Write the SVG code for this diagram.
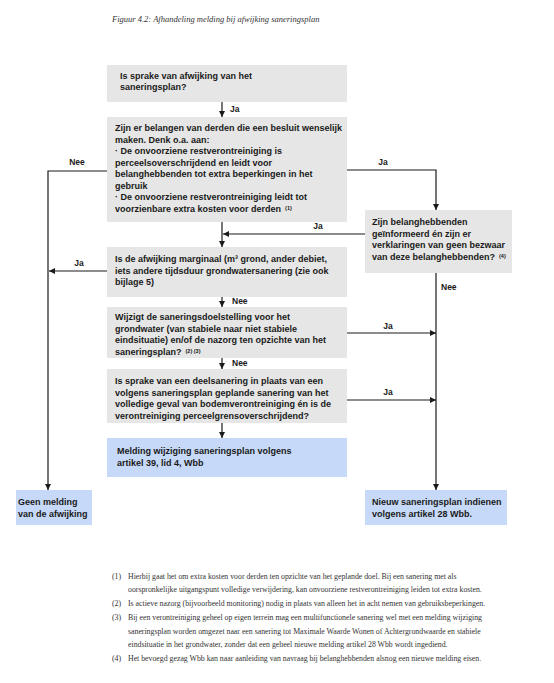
<svg xmlns="http://www.w3.org/2000/svg" width="554" height="683" viewBox="0 0 554 683">
<style>
.bg{fill:#ffffff}
.q{fill:#e6e6e6}
.r{fill:#c6d9f8}
.t{font-family:"Liberation Sans",Arial,sans-serif;font-weight:bold;font-size:9px;fill:#1a1a1a}
.lb{font-family:"Liberation Sans",Arial,sans-serif;font-weight:bold;font-size:8.5px;fill:#1a1a1a}
.sup{font-size:5.5px}
.ln{fill:none;stroke:#1a1a1a;stroke-width:1.2}
.fn{font-family:"Liberation Serif","Times New Roman",serif;font-size:7.8px;fill:#333333}
.ti{font-family:"Liberation Serif","Times New Roman",serif;font-style:italic;font-size:8.5px;fill:#333333}
</style>
<defs>
<marker id="ah" markerUnits="userSpaceOnUse" markerWidth="6" markerHeight="6" refX="6" refY="3" orient="auto">
<path d="M0,0 L6,3 L0,6 z" fill="#1a1a1a"/>
</marker>
</defs>
<rect class="bg" x="0" y="0" width="554" height="683"/>
<text class="ti" x="112" y="22">Figuur 4.2: Afhandeling melding bij afwijking saneringsplan</text>

<g id="connectors">
<line class="ln" x1="222" y1="102" x2="222" y2="117" marker-end="url(#ah)"/>
<text class="lb" x="230" y="112">Ja</text>
<polyline class="ln" points="107,171 48,171 48,490" marker-end="url(#ah)"/>
<text class="lb" x="77" y="165" text-anchor="middle">Nee</text>
<polyline class="ln" points="347,170 436,170 436,210" marker-end="url(#ah)"/>
<text class="lb" x="383" y="165" text-anchor="middle">Ja</text>
<line class="ln" x1="365" y1="234" x2="223" y2="234" marker-end="url(#ah)"/>
<text class="lb" x="318" y="229" text-anchor="middle">Ja</text>
<line class="ln" x1="222" y1="222" x2="222" y2="247" marker-end="url(#ah)"/>
<line class="ln" x1="107" y1="271" x2="49" y2="271" marker-end="url(#ah)"/>
<text class="lb" x="79" y="266" text-anchor="middle">Ja</text>
<line class="ln" x1="222" y1="297" x2="222" y2="307" marker-end="url(#ah)"/>
<text class="lb" x="232" y="304">Nee</text>
<line class="ln" x1="436" y1="273" x2="436" y2="490" marker-end="url(#ah)"/>
<text class="lb" x="441" y="290">Nee</text>
<line class="ln" x1="347" y1="333" x2="436" y2="333" marker-end="url(#ah)"/>
<text class="lb" x="388" y="329" text-anchor="middle">Ja</text>
<line class="ln" x1="222" y1="358" x2="222" y2="369" marker-end="url(#ah)"/>
<text class="lb" x="232" y="366">Nee</text>
<line class="ln" x1="347" y1="400" x2="436" y2="400" marker-end="url(#ah)"/>
<text class="lb" x="388" y="395" text-anchor="middle">Ja</text>
<line class="ln" x1="222" y1="423" x2="222" y2="438" marker-end="url(#ah)"/>
</g>

<g id="n1">
<rect class="q" x="107" y="65" width="240" height="37"/>
<text class="t" x="120" y="79">Is sprake van afwijking van het</text>
<text class="t" x="120" y="90">saneringsplan?</text>
</g>

<g id="n2">
<rect class="q" x="107" y="117" width="240" height="105"/>
<text class="t" x="115" y="131">Zijn er belangen van derden die een besluit wenselijk</text>
<text class="t" x="115" y="142.5">maken. Denk o.a. aan:</text>
<text class="t" x="115" y="154">· De onvoorziene restverontreiniging is</text>
<text class="t" x="115" y="165.5">perceelsoverschrijdend en leidt voor</text>
<text class="t" x="115" y="177">belanghebbenden tot extra beperkingen in het</text>
<text class="t" x="115" y="188.5">gebruik</text>
<text class="t" x="115" y="200">· De onvoorziene restverontreiniging leidt tot</text>
<text class="t" x="115" y="211.5">voorzienbare extra kosten voor derden<tspan class="sup" dx="4" dy="-2">(1)</tspan></text>
</g>

<g id="n3">
<rect class="q" x="107" y="247" width="240" height="50"/>
<text class="t" x="115" y="262">Is de afwijking marginaal (m³ grond, ander debiet,</text>
<text class="t" x="115" y="273.5">iets andere tijdsduur grondwatersanering (zie ook</text>
<text class="t" x="115" y="285">bijlage 5)</text>
</g>

<g id="n4">
<rect class="q" x="107" y="307" width="240" height="51"/>
<text class="t" x="115" y="320">Wijzigt de saneringsdoelstelling voor het</text>
<text class="t" x="115" y="331.5">grondwater (van stabiele naar niet stabiele</text>
<text class="t" x="115" y="343">eindsituatie) en/of de nazorg ten opzichte van het</text>
<text class="t" x="115" y="354.5">saneringsplan?<tspan class="sup" dx="4" dy="-2">(2) (3)</tspan></text>
</g>

<g id="n5">
<rect class="q" x="107" y="369" width="240" height="54"/>
<text class="t" x="115" y="384">Is sprake van een deelsanering in plaats van een</text>
<text class="t" x="115" y="395.5">volgens saneringsplan geplande sanering van het</text>
<text class="t" x="115" y="407">volledige geval van bodemverontreiniging én is de</text>
<text class="t" x="115" y="418.5">verontreiniging perceelgrensoverschrijdend?</text>
</g>

<g id="n6">
<rect class="r" x="107" y="438" width="240" height="39"/>
<text class="t" x="117" y="454">Melding wijziging saneringsplan volgens</text>
<text class="t" x="117" y="465.5">artikel 39, lid 4, Wbb</text>
</g>

<g id="n7">
<rect class="q" x="365" y="210" width="147" height="63"/>
<text class="t" x="372" y="225">Zijn belanghebbenden</text>
<text class="t" x="372" y="236.5">geïnformeerd én zijn er</text>
<text class="t" x="372" y="248">verklaringen van geen bezwaar</text>
<text class="t" x="372" y="259.5">van deze belanghebbenden?<tspan class="sup" dx="4" dy="-2">(4)</tspan></text>
</g>

<g id="n8">
<rect class="r" x="16" y="490" width="76" height="35"/>
<text class="t" x="18" y="505">Geen melding</text>
<text class="t" x="18" y="516.5">van de afwijking</text>
</g>

<g id="n9">
<rect class="r" x="365" y="490" width="142" height="35"/>
<text class="t" x="372" y="505">Nieuw saneringsplan indienen</text>
<text class="t" x="372" y="516.5">volgens artikel 28 Wbb.</text>
</g>

<g id="footnotes">
<text class="fn" x="112" y="579">(1)</text>
<text class="fn" x="128" y="579">Hierbij gaat het om extra kosten voor derden ten opzichte van het geplande doel. Bij een sanering met als</text>
<text class="fn" x="128" y="592">oorspronkelijke uitgangspunt volledige verwijdering, kan onvoorziene restverontreiniging leiden tot extra kosten.</text>
<text class="fn" x="112" y="606">(2)</text>
<text class="fn" x="128" y="606">Is actieve nazorg (bijvoorbeeld monitoring) nodig in plaats van alleen het in acht nemen van gebruiksbeperkingen.</text>
<text class="fn" x="112" y="620">(3)</text>
<text class="fn" x="128" y="620">Bij een verontreiniging geheel op eigen terrein mag een multifunctionele sanering wel met een melding wijziging</text>
<text class="fn" x="128" y="634">saneringsplan worden omgezet naar een sanering tot Maximale Waarde Wonen of Achtergrondwaarde en stabiele</text>
<text class="fn" x="128" y="647">eindsituatie in het grondwater, zonder dat een geheel nieuwe melding artikel 28 Wbb wordt ingediend.</text>
<text class="fn" x="112" y="661">(4)</text>
<text class="fn" x="128" y="661">Het bevoegd gezag Wbb kan naar aanleiding van navraag bij belanghebbenden alsnog een nieuwe melding eisen.</text>
</g>
</svg>
